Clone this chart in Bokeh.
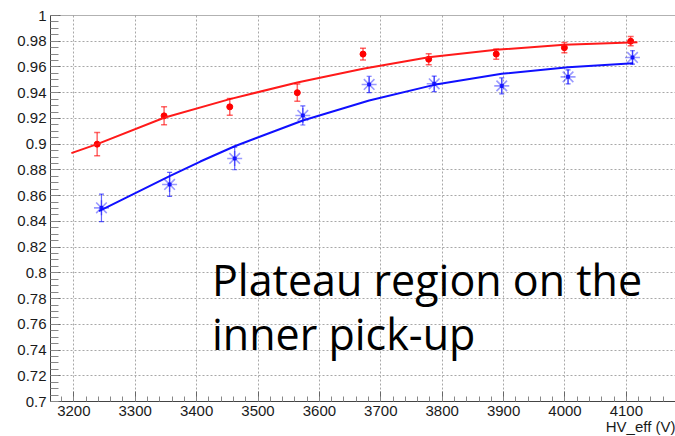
from bokeh.plotting import figure
from bokeh.models import (Range1d, FixedTicker, Whisker, TeeHead,
                          ColumnDataSource, Label, Span, Title)
from bokeh.embed import file_html
from bokeh.resources import INLINE
import numpy as np

# ---- data ----
x_red = [3238, 3347, 3454, 3564, 3671, 3778, 3888, 3999, 4107]
y_red = [0.900, 0.922, 0.929, 0.940, 0.970, 0.966, 0.970, 0.975, 0.980]
err_red = [0.009, 0.007, 0.0065, 0.0067, 0.0045, 0.0043, 0.004, 0.004, 0.0036]

x_blue = [3245, 3356, 3462, 3573, 3681, 3787, 3897, 4005, 4110]
y_blue = [0.8505, 0.8687, 0.8889, 0.9223, 0.9464, 0.9469, 0.9453, 0.9523, 0.9674]
err_blue = [0.0107, 0.0093, 0.0088, 0.0074, 0.0064, 0.006, 0.0062, 0.0054, 0.0052]

fit_red_x = [3196, 3238, 3347, 3454, 3564, 3671, 3778, 3888, 3999, 4118]
fit_red_y = [0.893, 0.900, 0.9205, 0.935, 0.948, 0.9586, 0.9676, 0.9733, 0.9772, 0.9793]

fit_blue_x = [3241, 3356, 3406, 3462, 3573, 3681, 3787, 3897, 4005, 4111]
fit_blue_y = [0.848, 0.8751, 0.8865, 0.8984, 0.9184, 0.934, 0.9461, 0.9547, 0.9598, 0.9629]

x_ticks = [3200, 3300, 3400, 3500, 3600, 3700, 3800, 3900, 4000, 4100]
x_tick_labels = ["3200", "3300", "3400", "3500", "3600", "3700", "3800",
                 "3900", "4000", "4100"]
y_ticks = [0.70, 0.72, 0.74, 0.76, 0.78, 0.80, 0.82, 0.84, 0.86, 0.88,
           0.90, 0.92, 0.94, 0.96, 0.98, 1.00]
y_tick_labels = ["0.7", "0.72", "0.74", "0.76", "0.78", "0.8", "0.82", "0.84",
                 "0.86", "0.88", "0.9", "0.92", "0.94", "0.96", "0.98", "1"]

x_axis_title = "HV_eff (V)"
note_lines = ["Plateau region on the", "inner pick-up"]

# ---- figure ----
p = figure(width=675, height=436, output_backend="svg", toolbar_location=None,
           x_range=Range1d(3162, 4180), y_range=Range1d(0.7, 1.0),
           min_border_left=50, min_border_right=0, min_border_top=15,
           min_border_bottom=35)
p.outline_line_color = None
p.background_fill_color = "white"
p.border_fill_color = "white"

xt = FixedTicker(ticks=x_ticks, minor_ticks=list(np.arange(3180, 4180, 20)))
yt = FixedTicker(ticks=y_ticks, minor_ticks=list(np.round(np.arange(0.7, 1.0001, 0.005), 3)))
p.xaxis.ticker = xt
p.yaxis.ticker = yt
p.xgrid.ticker = xt
p.ygrid.ticker = yt
p.xaxis.major_label_overrides = dict(zip(x_ticks, x_tick_labels))
p.yaxis.major_label_overrides = dict(zip(y_ticks, y_tick_labels))

for ax in (p.xaxis, p.yaxis):
    ax.axis_line_color = "#444444"
    ax.axis_line_width = 1
    ax.major_tick_line_color = "#666666"
    ax.minor_tick_line_color = "#888888"
    ax.major_tick_out = 0
    ax.minor_tick_out = 0
    ax.major_tick_in = 10
    ax.major_label_text_font = "Liberation Sans"
    ax.major_label_text_font_size = "15px"
    ax.major_label_text_color = "#1a1a1a"
p.xaxis.minor_tick_in = 5
p.yaxis.minor_tick_in = 8
p.xaxis.major_label_standoff = 4
p.yaxis.major_label_standoff = 4

p.grid.grid_line_color = "#a8a8a8"
p.grid.grid_line_dash = "2 2"
p.grid.grid_line_width = 1

p.add_layout(Span(location=1.0, dimension="width", line_color="#666666",
                  line_width=1))

# ---- x axis title, right-aligned under the axis ----
p.add_layout(Title(text=x_axis_title, align="right", text_font="Liberation Sans",
                   text_font_size="15px", text_font_style="normal",
                   text_color="#1a1a1a", standoff=-6, offset=0), "below")

# ---- error bars ----
src_r = ColumnDataSource(dict(x=x_red, y=y_red,
                              lo=[a - b for a, b in zip(y_red, err_red)],
                              hi=[a + b for a, b in zip(y_red, err_red)]))
src_b = ColumnDataSource(dict(x=x_blue, y=y_blue,
                              lo=[a - b for a, b in zip(y_blue, err_blue)],
                              hi=[a + b for a, b in zip(y_blue, err_blue)]))

p.add_layout(Whisker(source=src_r, base="x", lower="lo", upper="hi",
                     line_color="red", line_alpha=0.6, line_width=1.5,
                     upper_head=TeeHead(size=6, line_color="red", line_alpha=0.6, line_width=1.5),
                     lower_head=TeeHead(size=6, line_color="red", line_alpha=0.6, line_width=1.5),
                     level="glyph"))
p.add_layout(Whisker(source=src_b, base="x", lower="lo", upper="hi",
                     line_color="blue", line_alpha=0.6, line_width=1.2,
                     upper_head=TeeHead(size=5, line_color="blue", line_alpha=0.6, line_width=1.2),
                     lower_head=TeeHead(size=5, line_color="blue", line_alpha=0.6, line_width=1.2),
                     level="glyph"))

# ---- markers ----
p.scatter("x", "y", source=src_r, marker="circle", size=6,
          fill_color="red", line_color="red")
p.scatter("x", "y", source=src_b, marker="asterisk", size=15,
          line_color="blue", line_alpha=0.4, line_width=1.6)
p.scatter("x", "y", source=src_b, marker="square", size=3,
          fill_color="blue", line_color="blue", alpha=0.7)

# ---- fit curves ----
p.line(fit_red_x, fit_red_y, line_color="#ff1a1a", line_width=2)
p.line(fit_blue_x, fit_blue_y, line_color="#1010ff", line_width=2)

# ---- note text ----
for txt, yy in zip(note_lines, [0.7948, 0.7528]):
    p.add_layout(Label(x=3425, y=yy, text=txt, text_align="left",
                       text_baseline="alphabetic", text_font="Open Sans",
                       text_font_size="43px", text_color="black"))

open("out.html", "w").write(file_html(p, INLINE))
